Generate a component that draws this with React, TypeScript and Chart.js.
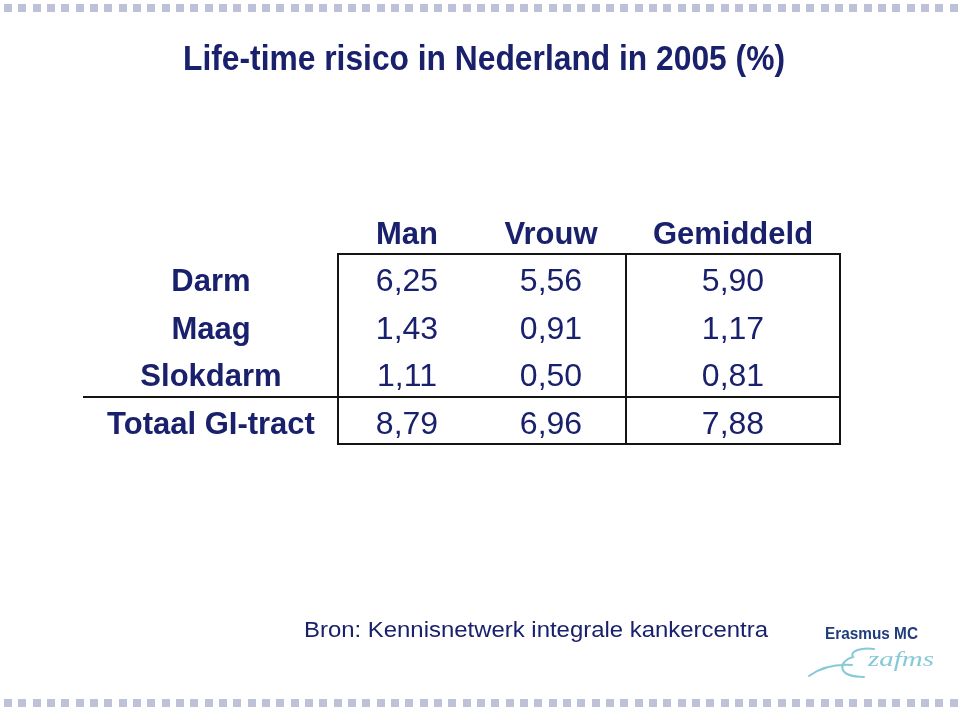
import { useEffect, useRef } from 'react';
import { Chart, registerables } from 'chart.js';

Chart.register(...registerables);

// ---- data ----
const TITLE = 'Life-time risico in Nederland in 2005 (%)';
const COLUMNS = ['Man', 'Vrouw', 'Gemiddeld'];
const ROWS = ['Darm', 'Maag', 'Slokdarm', 'Totaal GI-tract'];
const MAN = [6.25, 1.43, 1.11, 8.79];
const VROUW = [5.56, 0.91, 0.5, 6.96];
const GEMIDDELD = [5.9, 1.17, 0.81, 7.88];
const SOURCE = 'Bron: Kennisnetwerk integrale kankercentra';
const LOGO = 'Erasmus MC';

const SERIES = [MAN, VROUW, GEMIDDELD];

// ---- layout / style ----
const NAVY = '#1a216c';
const LINE = '#141414';
const SQUARE = '#bec2d8';
const FONT = '"Liberation Sans", Arial, Helvetica, sans-serif';
const LABEL_X = 211; // centre of row-label column
const COL_X = [407, 551, 733]; // centres of value columns
const GRID_X = { left: 83, tableLeft: 338, mid: 626, right: 840 };
const BASELINE_SHIFT = 13.25;

const fmt = (v: number) => v.toFixed(2).replace('.', ',');

function fitText(ctx: CanvasRenderingContext2D, text: string, x: number, y: number, width: number, align: CanvasTextAlign) {
  const w = ctx.measureText(text).width;
  ctx.save();
  ctx.translate(x, y);
  ctx.scale(width / w, 1);
  ctx.textAlign = align;
  ctx.fillText(text, 0, 0);
  ctx.restore();
}

const slidePlugin = {
  id: 'slideTable',
  beforeDraw(chart: any) {
    const ctx = chart.ctx as CanvasRenderingContext2D;
    ctx.save();
    ctx.fillStyle = '#ffffff';
    ctx.fillRect(0, 0, chart.width, chart.height);
    // decorative square borders
    ctx.fillStyle = SQUARE;
    const pitch = 14.33;
    for (let x = 4; x < chart.width - 4; x += pitch) {
      ctx.fillRect(Math.round(x), 4, 8, 8);
      ctx.fillRect(Math.round(x), 699, 8, 8);
    }
    ctx.restore();
  },
  afterDatasetsDraw(chart: any) {
    const ctx = chart.ctx as CanvasRenderingContext2D;
    const y = chart.scales.y;
    const pix = (i: number) => y.getPixelForValue(i);
    ctx.save();
    ctx.textBaseline = 'alphabetic';
    ctx.fillStyle = NAVY;

    // title
    ctx.font = `bold 35px ${FONT}`;
    fitText(ctx, TITLE, 484, 70, 602, 'center');

    // header
    ctx.font = `bold 31px ${FONT}`;
    ctx.textAlign = 'center';
    COLUMNS.forEach((c, i) => {
      ctx.fillText(c, COL_X[i], pix(0) + BASELINE_SHIFT);
    });

    // row labels
    ROWS.forEach((r, i) => {
      ctx.fillText(r, LABEL_X, pix(i + 1) + BASELINE_SHIFT);
    });

    // values, positioned by the chart's own elements
    ctx.font = `32px ${FONT}`;
    SERIES.forEach((vals, d) => {
      const meta = chart.getDatasetMeta(d);
      meta.data.forEach((el: any, i: number) => {
        ctx.fillText(fmt(vals[i]), el.x, el.y + BASELINE_SHIFT);
      });
    });

    // table lines
    const step = pix(2) - pix(1);
    const yTop = Math.round((pix(0) + pix(1)) / 2);
    const ySep = Math.round((pix(3) + pix(4)) / 2);
    const yBot = Math.round(pix(4) + step / 2);
    ctx.strokeStyle = LINE;
    ctx.lineWidth = 2;
    ctx.beginPath();
    ctx.moveTo(GRID_X.tableLeft, yTop);
    ctx.lineTo(GRID_X.right, yTop);
    ctx.moveTo(GRID_X.left, ySep);
    ctx.lineTo(GRID_X.right, ySep);
    ctx.moveTo(GRID_X.tableLeft, yBot);
    ctx.lineTo(GRID_X.right, yBot);
    [GRID_X.tableLeft, GRID_X.mid, GRID_X.right].forEach((x) => {
      ctx.moveTo(x, yTop - 1);
      ctx.lineTo(x, yBot + 1);
    });
    ctx.stroke();

    // source
    ctx.fillStyle = NAVY;
    ctx.font = `22px ${FONT}`;
    fitText(ctx, SOURCE, 304, 637, 464, 'left');

    // logo
    ctx.fillStyle = '#203c7c';
    ctx.font = `bold 17px ${FONT}`;
    fitText(ctx, LOGO, 825, 639, 93, 'left');
    ctx.strokeStyle = '#86cad8';
    ctx.lineWidth = 2;
    ctx.lineCap = 'round';
    ctx.beginPath();
    ctx.moveTo(809, 676);
    ctx.bezierCurveTo(820, 668, 836, 664, 852, 665);
    ctx.moveTo(874, 649);
    ctx.bezierCurveTo(862, 647, 849, 651, 853, 657);
    ctx.bezierCurveTo(838, 661, 836, 677, 864, 677);
    ctx.stroke();
    ctx.fillStyle = '#86cad8';
    ctx.font = `italic 21px "Liberation Serif", serif`;
    fitText(ctx, 'zafms', 868, 666, 66, 'left');
    ctx.restore();
  },
};

export default function App() {
  const ref = useRef<HTMLCanvasElement>(null);
  useEffect(() => {
    const canvas = ref.current;
    if (!canvas) return;
    const chart = new Chart(canvas, {
      type: 'scatter',
      data: {
        datasets: SERIES.map((vals, d) => ({
          label: COLUMNS[d],
          data: vals.map((v, i) => ({ x: COL_X[d], y: ROWS[i], v })),
          pointRadius: 0,
          pointHoverRadius: 0,
          showLine: false,
        })),
      },
      options: {
        responsive: false,
        maintainAspectRatio: false,
        animation: false,
        devicePixelRatio: 1,
        events: [],
        layout: { padding: { top: 206.5, bottom: 266, left: 0, right: 0 } },
        plugins: { legend: { display: false }, tooltip: { enabled: false }, title: { display: false } },
        scales: {
          x: { type: 'linear', min: 0, max: 960, display: false },
          y: { type: 'category', labels: ['header', ...ROWS], offset: true, display: false },
        },
      },
      plugins: [slidePlugin],
    } as any);
    return () => chart.destroy();
  }, []);
  return (
    <div style={{ position: 'fixed', left: 0, top: 0, width: 960, height: 710, background: '#fff' }}>
      <canvas ref={ref} width={960} height={710} style={{ display: 'block', width: 960, height: 710 }} />
    </div>
  );
}
